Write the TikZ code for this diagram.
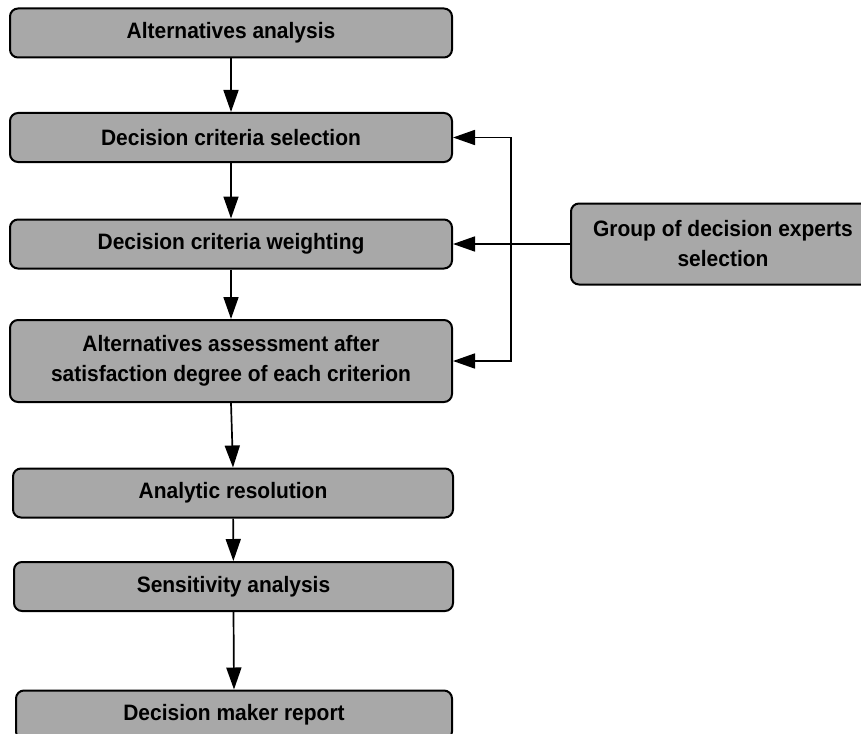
\documentclass[tikz,border=0pt]{standalone}
\usepackage{fontspec}
\setmainfont[FakeStretch=0.94]{Liberation Sans}
\usetikzlibrary{arrows.meta,positioning}
\definecolor{boxgray}{RGB}{168,168,168}

\begin{document}
\begin{tikzpicture}[
    x=1pt, y=-1pt,
    every node/.style={
        draw, fill=boxgray,
        rounded corners=8pt,
        line width=2pt,
        inner sep=0pt,
        align=center,
        font=\fontsize{22.3}{30}\selectfont\bfseries
    },
    stage/.style={minimum width=442pt, minimum height=49pt},
    arr/.style={line width=1.7pt, -{Triangle[length=22pt,width=15pt]}}
]
\clip (0,0) rectangle (861,733);
\node[stage] (alt) at (231,33) {Alternatives analysis};
\node[stage] (crit) at (231,137.5) {Decision criteria selection};
\node[stage] (weight) at (231,244) {Decision criteria weighting};
\node[stage, minimum height=82pt] (assess) at (231,361)
    {Alternatives assessment after\\satisfaction degree of each criterion};
\node[stage, minimum width=440pt] (resol) at (233,493) {Analytic resolution};
\node[stage, minimum width=439pt] (sens) at (233.5,586.5) {Sensitivity analysis};
\node[stage, minimum width=436pt] (report) at (234,715) {Decision maker report};
\node[minimum width=304pt, minimum height=81pt] (experts) at (723,244)
    {Group of decision experts\\selection};
\coordinate (bus) at (511,244);

\draw[arr] (alt) -- (crit);
\draw[arr] (crit) -- (weight);
\draw[arr] (weight) -- (assess);
\draw[arr] (assess.south) -- (resol.north);
\draw[arr] (resol) -- (sens);
\draw[arr] (sens.south) -- (report.north);
\draw[arr] (experts.west) -- (weight.east);
\draw[arr] (bus) |- (crit.east);
\draw[arr] (bus) |- (assess.east);
\end{tikzpicture}
\end{document}
